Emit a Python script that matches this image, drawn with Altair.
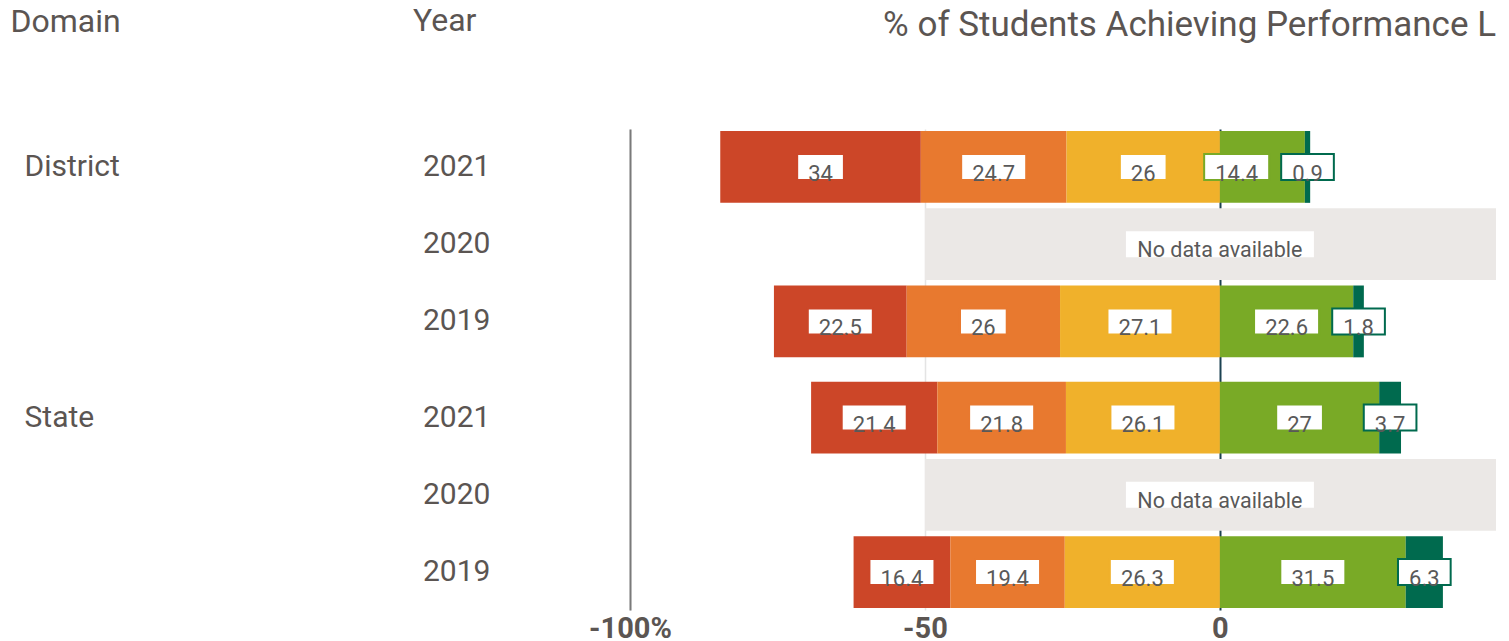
import altair as alt
import pandas as pd

# ---------------- data ----------------
domains = ["District", "District", "District", "State", "State", "State"]
years = ["2021", "2020", "2019", "2021", "2020", "2019"]
level1 = [34, None, 22.5, 21.4, None, 16.4]
level2 = [24.7, None, 26, 21.8, None, 19.4]
level3 = [26, None, 27.1, 26.1, None, 26.3]
level4 = [14.4, None, 22.6, 27, None, 31.5]
level5 = [0.9, None, 1.8, 3.7, None, 6.3]
level_names = ["Level 1", "Level 2", "Level 3", "Level 4", "Level 5"]
level_colors = ["#cc4628", "#e8792f", "#f0b12b", "#79aa26", "#006a4e"]
no_data_text = "No data available"
x_ticks = [-100, -50, 0]
title_text = "% of Students Achieving Performance L"

# ---------------- layout constants ----------------
W, H = 866, 481
XMIN, XMAX = -100, 46.8
PX = W / (XMAX - XMIN)          # pixels per percentage point
TXT = "#5b5552"
FONT = "Roboto"
NUM_FS = 22
BOX_PAD = 22
GAP_PX = 12


def box_halfwidth(label, fs=NUM_FS):
    nd = sum(c.isdigit() for c in label)
    nother = len(label) - nd
    px = fs * (0.562 * nd + 0.27 * nother) + BOX_PAD
    return px / 2 / PX


seg_rows = []
nodata_rows = []
for i, (d, y) in enumerate(zip(domains, years)):
    vals = [level1[i], level2[i], level3[i], level4[i], level5[i]]
    if vals[0] is None:
        hw = (188 / 2) / PX
        nodata_rows.append(dict(Domain=d, Year=y, start=-50, end=50,
                                label=no_data_text, center=0,
                                box_l=-hw, box_r=hw))
        continue
    v1, v2, v3, v4, v5 = vals
    bounds = [
        (-(v1 + v2 + v3), -(v2 + v3)),
        (-(v2 + v3), -v3),
        (-v3, 0),
        (0, v4),
        (v4, v4 + v5),
    ]
    recs = []
    for lev, (s, e), v in zip(level_names, bounds, vals):
        lab = f"{v:g}"
        recs.append(dict(Domain=d, Year=y, Level=lev, value=v, start=s, end=e,
                         label=lab, center=(s + e) / 2, hw=box_halfwidth(lab)))
    # keep the level-4 label box clear of the level-5 box
    r4, r5 = recs[3], recs[4]
    limit = r5["center"] - r5["hw"] - GAP_PX / PX
    if r4["center"] + r4["hw"] > limit:
        r4["center"] = limit - r4["hw"]
    for r in recs:
        r["box_l"] = r["center"] - r["hw"]
        r["box_r"] = r["center"] + r["hw"]
    seg_rows.extend(recs)

seg = pd.DataFrame(seg_rows)
nodata = pd.DataFrame(nodata_rows)
rows = pd.DataFrame({"Domain": domains, "Year": years})
header = pd.DataFrame({"t": ["Year"], "title": [title_text]})

# ---------------- encodings ----------------
xscale = alt.Scale(domain=[XMIN, XMAX], nice=False, zero=False)
xaxis = alt.Axis(
    values=x_ticks, title=None, domain=False, ticks=False,
    labelFontSize=29, labelFontWeight="bold", labelColor=TXT, labelFont=FONT,
    labelPadding=27, labelBaseline="alphabetic", labelFlush=False,
    labelExpr="datum.value == -100 ? '-100%' : (datum.value < 0 ? '-' + abs(datum.value) : '' + datum.value)",
    grid=True,
    gridColor=alt.condition("datum.value === 0", alt.value("#1c4252"), alt.value("#e4e4e4")),
    gridWidth=alt.condition("datum.value === 0", alt.value(2), alt.value(1.5)),
)


def X(field):
    return alt.X(f"{field}:Q", scale=xscale, axis=xaxis)


Y = alt.Y(
    "Domain:N",
    scale=alt.Scale(domain=["District", "State"], paddingInner=0.097, paddingOuter=0.008),
    axis=alt.Axis(
        title="Domain", titleAngle=0, titleAlign="left", titleBaseline="alphabetic",
        titleX=-620, titleY=-98, titleFontSize=32, titleFontWeight="normal",
        titleColor=TXT, titleFont=FONT,
        labelAlign="left", labelBaseline="middle", labelPadding=606, labelOffset=-77,
        labelFontSize=30, labelColor=TXT, labelFont=FONT,
        ticks=False, domainColor="#7a7a7a", domainWidth=2, grid=False,
    ),
)
YO = alt.YOffset(
    "Year:N",
    scale=alt.Scale(domain=["2021", "2020", "2019"], paddingInner=0.07, paddingOuter=0),
)

color_scale = alt.Scale(domain=level_names, range=level_colors)

nodata_bar = alt.Chart(nodata).mark_bar(color="#ebe8e6", clip=True).encode(
    x=X("start"), x2="end", y=Y, yOffset=YO)

seg_bar = alt.Chart(seg).mark_bar().encode(
    x=X("start"), x2="end", y=Y, yOffset=YO,
    color=alt.Color("Level:N", scale=color_scale, legend=None))

seg_box = alt.Chart(seg).mark_bar(size=26, fill="white", strokeWidth=2).encode(
    x=X("box_l"), x2="box_r", y=Y, yOffset=YO,
    stroke=alt.Stroke("Level:N", scale=color_scale, legend=None))

seg_text = alt.Chart(seg).mark_text(
    fontSize=NUM_FS, baseline="alphabetic", dy=14, color="#595959", font=FONT
).encode(x=X("center"), y=Y, yOffset=YO, text="label:N")

nodata_box = alt.Chart(nodata).mark_bar(size=26, fill="white").encode(
    x=X("box_l"), x2="box_r", y=Y, yOffset=YO)

nodata_text = alt.Chart(nodata).mark_text(
    fontSize=21.5, baseline="alphabetic", dy=13, color="#595959", font=FONT
).encode(x=X("center"), y=Y, yOffset=YO, text="label:N")

year_text = alt.Chart(rows).mark_text(
    align="left", baseline="middle", fontSize=30, color=TXT, font=FONT
).encode(x=alt.value(-207), y=Y, yOffset=YO, text="Year:N")

year_head = alt.Chart(header).mark_text(
    align="left", baseline="alphabetic", fontSize=32, color=TXT, font=FONT
).encode(x=alt.value(-217), y=alt.value(-98), text="t:N")

title = alt.Chart(header).mark_text(
    align="right", baseline="alphabetic", fontSize=35, color=TXT, font=FONT
).encode(x=alt.value(W), y=alt.value(-93), text="title:N")

chart = alt.layer(
    nodata_bar, seg_bar, seg_box, seg_text, nodata_box, nodata_text,
    year_text, year_head, title,
).properties(
    width=W, height=H,
    padding={"left": 2, "top": -3, "right": 0, "bottom": 0},
).configure(font=FONT).configure_view(stroke="transparent", strokeWidth=0)

chart.save("out.html", embed_options={"renderer": "svg", "actions": False})
